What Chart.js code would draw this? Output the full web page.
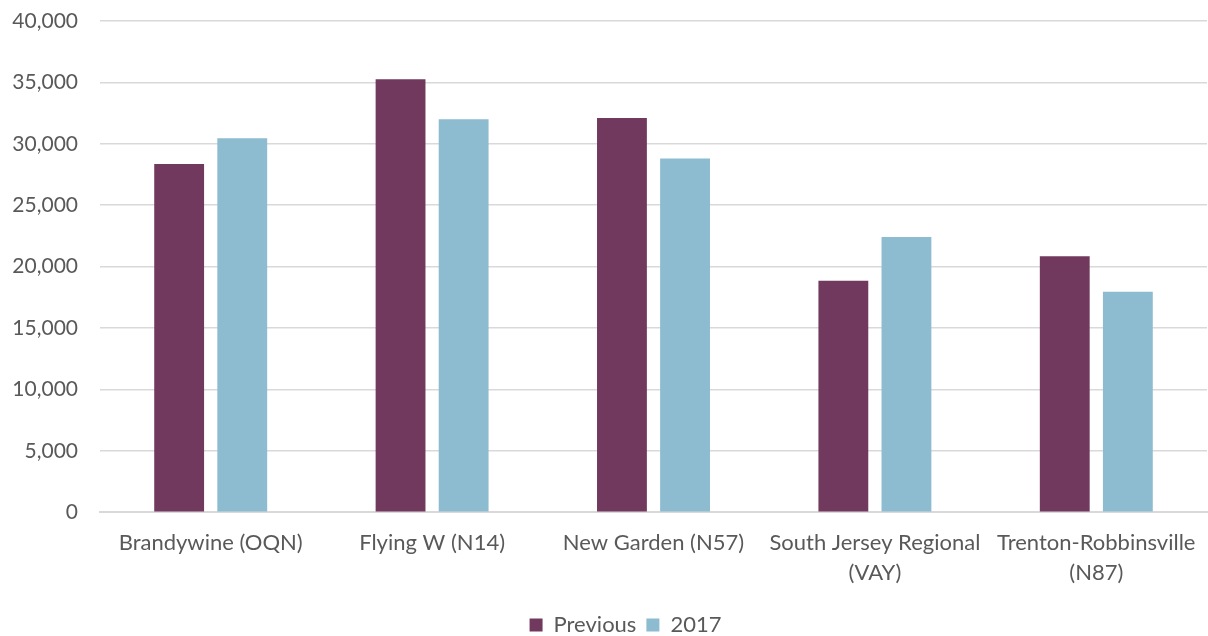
<!DOCTYPE html>
<html>
<head>
<meta charset="utf-8">
<script src="https://cdn.jsdelivr.net/npm/chart.js@4.4.0/dist/chart.umd.min.js"></script>
<style>
html,body{margin:0;padding:0;background:#fff;}
#wrap{width:1208px;height:636px;}
</style>
</head>
<body>
<div id="wrap"><canvas id="c" width="1208" height="636"></canvas></div>
<script>
const categories = [
  'Brandywine (OQN)',
  'Flying W (N14)',
  'New Garden (N57)',
  ['South Jersey Regional', '(VAY)'],
  ['Trenton-Robbinsville', '(N87)']
];
const seriesNames = ['Previous', '2017'];
const previousValues = [28350, 35250, 32100, 18850, 20850];
const values2017 = [30450, 32000, 28800, 22400, 17950];
const yMin = 0, yMax = 40000, yStep = 5000;

const FONT = 'Lato, "Open Sans", sans-serif';
const TXT = '#595959';
const GRID = '#d9d9d9';

const legendShift = {
  id: 'legendShift',
  afterLayout(chart) {
    if (chart.legend) { chart.legend.left += 22; chart.legend.right += 22; }
  }
};

new Chart(document.getElementById('c'), {
  type: 'bar',
  data: {
    labels: categories,
    datasets: [
      { label: seriesNames[0], data: previousValues, backgroundColor: '#70395D',
        categoryPercentage: 0.57, barPercentage: 0.79 },
      { label: seriesNames[1], data: values2017, backgroundColor: '#8DBBD0',
        categoryPercentage: 0.57, barPercentage: 0.79 }
    ]
  },
  plugins: [legendShift],
  options: {
    responsive: false,
    animation: false,
    layout: { padding: { top: 21, right: 1, left: 0, bottom: -10 } },
    plugins: {
      legend: {
        position: 'bottom',
        labels: {
          font: { family: FONT, size: 22 },
          color: TXT,
          boxWidth: 13, boxHeight: 13,
          padding: 10
        }
      },
      tooltip: { enabled: false }
    },
    scales: {
      x: {
        grid: { display: false, drawTicks: false },
        border: { display: true, color: GRID, width: 2 },
        ticks: {
          font: { family: FONT, size: 22, lineHeight: 1.36 },
          color: TXT,
          padding: 16,
          maxRotation: 0,
          autoSkip: false
        },
        afterFit: s => { s.paddingLeft = 0; s.paddingRight = 0; }
      },
      y: {
        min: yMin, max: yMax,
        grid: { color: GRID, lineWidth: 1.5, drawTicks: false },
        border: { display: false },
        ticks: {
          stepSize: yStep,
          font: { family: FONT, size: 21 },
          color: TXT,
          padding: 22,
          callback: v => v.toLocaleString('en-US')
        },
        afterFit: s => { s.width = 100; s.paddingTop = 0; s.paddingBottom = 0; }
      }
    }
  }
});
</script>
</body>
</html>
